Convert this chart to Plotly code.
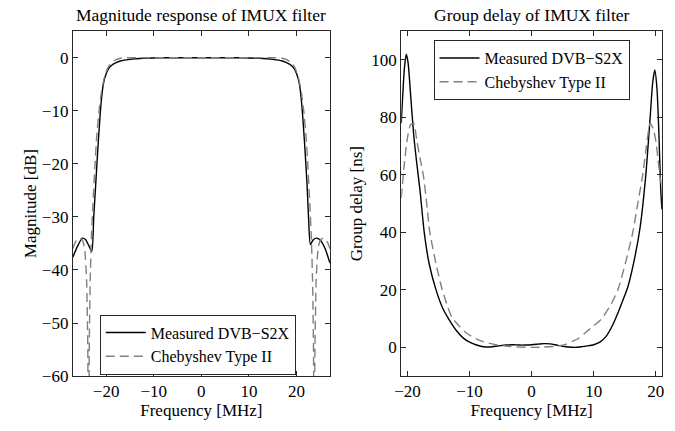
import plotly.graph_objects as go

# ---------------- data ----------------
mag_meas_f = [-27, -26, -25, -24.3, -23.6, -23.0, -22.6, -22.2, -21.8, -21.4, -21.0, -20.6, -20.0,
              -19.3, -18.5, -17, -15, -12, -8, 0, 8, 12, 15, 17, 18.5, 19.3, 20.0, 20.6, 21.0,
              21.4, 21.8, 22.2, 22.5, 22.9, 23.5, 24.2, 25, 26, 27]
mag_meas_db = [-37.6, -35.5, -34.0, -34.3, -35.5, -36.5, -30, -24, -18, -12.5, -8, -5, -3.0,
               -1.8, -1.2, -0.6, -0.3, -0.1, 0, 0, 0, -0.1, -0.3, -0.6, -1.2, -1.8, -3.0, -5, -8,
               -12.5, -18, -24, -30, -35.2, -34.3, -34.0, -34.4, -36.0, -38.7]

mag_cheb_f = [-27, -26.5, -25.7, -25, -24.5, -24.1, -23.85, -23.7, -23.55, -23.35, -23.1, -22.8,
              -22.4, -22.0, -21.5, -21.0, -20.4, -19.7, -19, -18, -17, -16, 0, 16, 17, 18, 19,
              19.7, 20.4, 21.0, 21.5, 22.0, 22.4, 22.8, 23.1, 23.35, 23.55, 23.7, 23.85, 24.1,
              24.5, 25, 25.7, 26.5, 27]
mag_cheb_db = [-36, -34.8, -34.0, -34.3, -36, -42, -55, -100, -55, -42, -34, -28, -21, -15, -10,
               -6.5, -3.8, -2.0, -1.0, -0.4, -0.1, 0, 0, 0, -0.1, -0.4, -1.0, -2.0, -3.8, -6.5,
               -10, -15, -21, -28, -34, -42, -55, -100, -55, -42, -36, -34.3, -34.0, -34.8, -36]

gd_meas_f = [-21, -20.5, -20.2, -19.9, -19.5, -19.0, -18.5, -18.0, -17.3, -16.5, -15.4, -14.3,
             -13.4, -12.0, -11, -10, -9, -8, -7, -6, -5, -4, -3, -2, -1, 0, 1, 2, 3, 4, 5, 6, 7,
             8, 9, 10, 11, 12, 13, 14, 15, 15.5, 16.5, 17.5, 18.4, 19.1, 19.5, 19.85, 20.2,
             20.5, 20.8, 21]
gd_meas_ns = [78, 97, 102, 99, 88, 74, 64, 55, 40, 29, 20, 13.5, 10, 5.5, 3.2, 1.8, 0.9, 0.3,
              0.1, 0.3, 0.6, 0.8, 0.9, 0.8, 0.8, 0.9, 1.1, 1.3, 1.2, 0.8, 0.4, 0.1, 0.0, 0.2,
              0.5, 0.9, 1.8, 3.8, 7.5, 12.5, 18, 21, 30, 42, 60, 80, 92, 96.5, 90, 75, 55, 48]

gd_cheb_f = [-21, -20.5, -20, -19.5, -19.0, -18.5, -18.0, -17.45, -16.9, -16.4, -15.4, -14.4,
             -13.5, -12.85, -11.5, -10.5, -9, -7.8, -6, -4, -2, 0, 2, 4, 5.5, 6.5, 7.5, 8.6,
             10, 11.3, 12.8, 13.9, 15.2, 16.3, 17.1, 17.9, 18.5, 19.1, 19.6, 20.0, 20.5, 21]
gd_cheb_ns = [52, 64, 73, 77.5, 78, 72, 66, 60, 50, 40, 29, 20, 14, 10.5, 7, 5, 3, 2, 1, 0.4,
              0.1, 0, 0.1, 0.4, 1, 2, 3, 5, 7.5, 10, 15, 20, 30, 40, 50, 60, 70, 78, 76, 72,
              63, 54]

mag_xticks = [-20, -10, 0, 10, 20]
mag_yticks = [-60, -50, -40, -30, -20, -10, 0]
gd_xticks = [-20, -10, 0, 10, 20]
gd_yticks = [0, 20, 40, 60, 80, 100]

def lbl(v):
    return ("\u2212" + str(abs(v))) if v < 0 else str(v)

W, H = 675, 431
FONT = "Liberation Serif"
SOLID = dict(color="black", width=1.4)
DASH = dict(color="rgb(128,128,128)", width=1.4, dash="9px,5px")

fig = go.Figure()
fig.add_trace(go.Scatter(x=mag_meas_f, y=mag_meas_db, mode="lines", line=dict(**SOLID, shape="spline", smoothing=0.6),
                         name="Measured DVB\u2212S2X", xaxis="x", yaxis="y", legend="legend"))
fig.add_trace(go.Scatter(x=mag_cheb_f, y=mag_cheb_db, mode="lines", line=dict(**DASH, shape="spline", smoothing=0.4),
                         name="Chebyshev Type II", xaxis="x", yaxis="y", legend="legend"))
fig.add_trace(go.Scatter(x=gd_meas_f, y=gd_meas_ns, mode="lines", line=dict(**SOLID, shape="spline", smoothing=0.6),
                         name="Measured DVB\u2212S2X", xaxis="x2", yaxis="y2", legend="legend2"))
fig.add_trace(go.Scatter(x=gd_cheb_f, y=gd_cheb_ns, mode="lines", line=dict(**DASH, shape="spline", smoothing=0.6),
                         name="Chebyshev Type II", xaxis="x2", yaxis="y2", legend="legend2"))

axcommon = dict(showline=True, linecolor="rgb(40,40,40)", linewidth=1, mirror="ticks",
                ticks="inside", ticklen=5, tickcolor="rgb(40,40,40)", showgrid=False, zeroline=False,
                tickfont=dict(family=FONT, size=17, color="black"),
                title_font=dict(family=FONT, size=17, color="black"))

ydom = [1 - 385 / H, 1 - 32 / H]
legcommon = dict(xanchor="left", yanchor="top", bgcolor="white",
                 bordercolor="rgb(40,40,40)", borderwidth=1, font=dict(family=FONT, size=16),
                 itemwidth=40, tracegroupgap=0)
fig.update_layout(
    width=W, height=H, margin=dict(l=0, r=0, t=0, b=0),
    plot_bgcolor="white", paper_bgcolor="white",
    font=dict(family=FONT, size=17, color="black"),
    xaxis=dict(axcommon, domain=[66.7 / W, 327.3 / W], range=[-27, 27], tickvals=mag_xticks,
               ticktext=[lbl(v) for v in mag_xticks], title=dict(text="Frequency [MHz]", standoff=0), anchor="y"),
    yaxis=dict(axcommon, domain=ydom, range=[-60, 5], tickvals=mag_yticks,
               ticktext=[lbl(v) for v in mag_yticks], title=dict(text="Magnitude [dB]", standoff=0), anchor="x"),
    xaxis2=dict(axcommon, domain=[399.6 / W, 663.8 / W], range=[-21, 21], tickvals=gd_xticks,
                ticktext=[lbl(v) for v in gd_xticks], title=dict(text="Frequency [MHz]", standoff=0), anchor="y2"),
    yaxis2=dict(axcommon, domain=ydom, range=[-10, 110], tickvals=gd_yticks,
                ticktext=[lbl(v) for v in gd_yticks], title=dict(text="Group delay [ns]", standoff=4), anchor="x2"),
    legend=dict(legcommon, x=94 / W, y=1 - 322 / H),
    legend2=dict(legcommon, x=432.3 / W, y=1 - 41 / H),
    annotations=[
        dict(text="Magnitude response of IMUX filter", x=197 / W, y=1 - 15 / H, xref="paper", yref="paper",
             xanchor="center", yanchor="middle", showarrow=False, font=dict(family=FONT, size=17.5)),
        dict(text="Group delay of IMUX filter", x=531.7 / W, y=1 - 15 / H, xref="paper", yref="paper",
             xanchor="center", yanchor="middle", showarrow=False, font=dict(family=FONT, size=17.5)),
    ],
)

fig.write_html("out.html")
